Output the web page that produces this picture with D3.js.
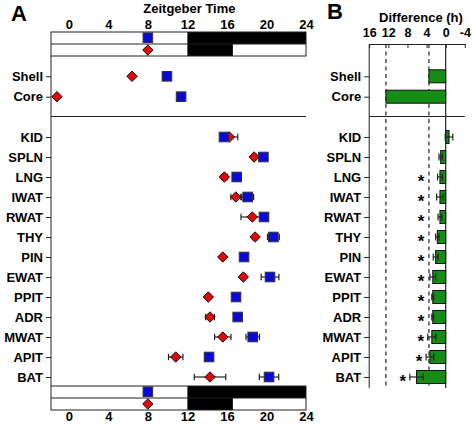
<!DOCTYPE html>
<html><head><meta charset="utf-8">
<script src="https://cdn.jsdelivr.net/npm/d3@7"></script>
<style>
body{margin:0;background:#fff}
text{font-family:"Liberation Sans",Arial,sans-serif;font-weight:bold;fill:#000}
</style>
</head><body><svg id="c" width="472" height="425"></svg>
<script>
// ---- data ----
const zoneLabels = ["Shell", "Core"];
const zoneRed = [6.4, -1.2];
const zoneBlue = [9.93, 11.36];
const tissues = ["KID","SPLN","LNG","IWAT","RWAT","THY","PIN","EWAT","PPIT","ADR","MWAT","APIT","BAT"];
const redPeak = [16.25, 18.75, 15.74, 16.9, 18.57, 18.85, 15.58, 17.66, 14.12, 14.29, 15.58, 10.82, 14.29];
const redErr  = [0.85, 0.2, 0.3, 0.5, 1.15, 0.2, 0.2, 0.2, 0.2, 0.44, 0.83, 0.73, 1.59];
const bluePeak = [15.7, 19.69, 16.99, 18.1, 19.75, 20.7, 17.73, 20.36, 16.92, 17.09, 18.61, 14.19, 20.26];
const blueErr  = [0.2, 0.3, 0.4, 0.6, 0.2, 0.6, 0.2, 0.9, 0.2, 0.2, 0.68, 0.2, 0.98];
const zoneDiff = [3.5, 12.5];
const tissueDiff = [-0.7, 1.05, 1.2, 1.2, 1.2, 1.75, 2.1, 2.7, 2.7, 2.7, 2.9, 3.3, 6.1];
const tissueDiffErr = [0.8, 0.35, 0.5, 0.7, 0.4, 0.35, 0.5, 0.6, 0.2, 0.2, 0.85, 0.8, 1.4];
const signif = [0,0,1,1,1,1,1,1,1,1,1,1,1];
const ztTicks = [0, 4, 8, 12, 16, 20, 24];
const diffTicks = [16, 12, 8, 4, 0, -4];
const darkTop = [[12, 24]];
const darkBottom = [[12, 16.6]];
const refBlue = 8, refRed = 8;

// ---- setup ----
const svg = d3.select("#c");
const BLUE = "#0a0ad6", RED = "#e00808", GREEN = "#158c15";
const xA = d3.scaleLinear().domain([-1.8, 24]).range([51, 306]);
const xB = d3.scaleLinear().domain([16, -4]).range([369.2, 464.8]);
const yZ = d3.scalePoint().domain(zoneLabels).range([76.3, 96.7]);
const yT = d3.scalePoint().domain(tissues).range([137, 377]);
const topY = 44, botY = 388;

// panel letters and titles
svg.append("text").attr("x", 11).attr("y", 21).attr("font-size", 22).text("A");
svg.append("text").attr("x", 327).attr("y", 19).attr("font-size", 22).text("B");
svg.append("text").attr("x", xA(12)+2).attr("y", 12.5).attr("text-anchor","middle").attr("font-size", 13).text("Zeitgeber Time");
svg.append("text").attr("x", 421).attr("y", 21.5).attr("text-anchor","middle").attr("font-size", 13).text("Difference (h)");

// ---- light/dark boxes ----
function lightBox(y0) {
  const g = svg.append("g");
  const h = 12;
  [0,1].forEach(r => {
    g.append("rect").attr("x", xA(-1.8)).attr("y", y0 + r*h).attr("width", xA(24)-xA(-1.8)).attr("height", h)
      .attr("fill", "#fff");
  });
  g.selectAll(".dt").data(darkTop).join("rect").attr("x", d=>xA(d[0])).attr("y", y0).attr("width", d=>xA(d[1])-xA(d[0])).attr("height", h).attr("fill","#000");
  g.selectAll(".db").data(darkBottom).join("rect").attr("x", d=>xA(d[0])).attr("y", y0+h).attr("width", d=>xA(d[1])-xA(d[0])).attr("height", h).attr("fill","#000");
  g.append("rect").attr("x", xA(-1.8)).attr("y", y0).attr("width", xA(24)-xA(-1.8)).attr("height", 2*h)
    .attr("fill","none").attr("stroke","#222").attr("stroke-width",1);
  g.append("line").attr("x1", xA(-1.8)).attr("x2", xA(24)).attr("y1", y0+h).attr("y2", y0+h).attr("stroke","#222");
  square(g, xA(refBlue), y0 + h/2 - 0.3);
  diamond(g, xA(refRed), y0 + h*1.5);
}
function square(g, x, y) {
  g.append("rect").attr("x", x-4.8).attr("y", y-4.8).attr("width", 9.6).attr("height", 9.6)
    .attr("fill", BLUE).attr("stroke", "#333").attr("stroke-width", 1);
}
function diamond(g, x, y) {
  const r = 5.2;
  g.append("path").attr("d", `M${x},${y-r}L${x+r},${y}L${x},${y+r}L${x-r},${y}Z`)
    .attr("fill", RED).attr("stroke", "#111").attr("stroke-width", 1);
}
function errBar(g, x1, x2, y, cap) {
  g.append("line").attr("x1", x1).attr("x2", x2).attr("y1", y).attr("y2", y).attr("stroke","#222").attr("stroke-width",1.2);
  [x1, x2].forEach(x => g.append("line").attr("x1", x).attr("x2", x).attr("y1", y-cap).attr("y2", y+cap).attr("stroke","#222").attr("stroke-width",1.2));
}

lightBox(32);
lightBox(386);

// ---- panel A axes ----
const axTop = svg.append("g").attr("transform", "translate(0,32)")
  .call(d3.axisTop(xA).tickValues(ztTicks).tickSize(0).tickPadding(3.5));
axTop.select(".domain").remove();
axTop.selectAll("text").attr("font-size", 13).attr("font-family", "Liberation Sans, Arial, sans-serif").attr("font-weight","bold");
const axBot = svg.append("g").attr("transform", "translate(0,410)")
  .call(d3.axisBottom(xA).tickValues(ztTicks).tickSize(0).tickPadding(2));
axBot.select(".domain").remove();
axBot.selectAll("text").attr("font-size", 13).attr("font-family", "Liberation Sans, Arial, sans-serif").attr("font-weight","bold");

svg.append("line").attr("x1", 51).attr("x2", 51).attr("y1", 56).attr("y2", 386).attr("stroke","#222");
svg.append("line").attr("x1", 51).attr("x2", 306).attr("y1", 116.5).attr("y2", 116.5).attr("stroke","#222");

function rowAxis(x, scale) {
  const a = svg.append("g").attr("transform", `translate(${x},0)`)
    .call(d3.axisLeft(scale).tickSize(5).tickPadding(3));
  a.select(".domain").remove();
  a.selectAll("line").attr("stroke","#222");
  a.selectAll("text").attr("font-size", 13).attr("font-family", "Liberation Sans, Arial, sans-serif").attr("font-weight","bold").attr("fill","#000");
}
rowAxis(51, yZ); rowAxis(51, yT);

// ---- panel A marks ----
const gA = svg.append("g");
tissues.forEach((t, i) => {
  const y = yT(t);
  errBar(gA, xA(redPeak[i]-redErr[i]), xA(redPeak[i]+redErr[i]), y, 3.2);
  errBar(gA, xA(bluePeak[i]-blueErr[i]), xA(bluePeak[i]+blueErr[i]), y, 3.2);
});
tissues.forEach((t, i) => diamond(gA, xA(redPeak[i]), yT(t)));
tissues.forEach((t, i) => square(gA, xA(bluePeak[i]), yT(t)));
zoneLabels.forEach((z, i) => { diamond(gA, xA(zoneRed[i]), yZ(z)); square(gA, xA(zoneBlue[i]), yZ(z)); });

// ---- panel B ----
const axB = svg.append("g").attr("transform", `translate(0,${topY})`)
  .call(d3.axisTop(xB).tickValues(diffTicks).tickSizeInner(-4).tickSizeOuter(0).tickPadding(7.5).tickFormat(d => String(d)));
axB.selectAll("line, path").attr("stroke","#222");
axB.selectAll("text").attr("font-size", 12.5).attr("font-family", "Liberation Sans, Arial, sans-serif").attr("font-weight","bold").attr("fill","#000");

svg.append("line").attr("x1", xB(16)).attr("x2", xB(16)).attr("y1", topY).attr("y2", botY).attr("stroke","#222");
svg.append("line").attr("x1", xB(16)).attr("x2", xB(-4)).attr("y1", 116.5).attr("y2", 116.5).attr("stroke","#222");
rowAxis(xB(16), yZ); rowAxis(xB(16), yT);

zoneDiff.forEach(d => {
  svg.append("line").attr("x1", xB(d)).attr("x2", xB(d)).attr("y1", topY).attr("y2", botY)
    .attr("stroke","#333").attr("stroke-width",1.3).attr("stroke-dasharray","4,3.5");
});

const gB = svg.append("g");
const bh = 13;
function bar(d, y) {
  const x0 = Math.min(xB(d), xB(0)), x1 = Math.max(xB(d), xB(0));
  gB.append("rect").attr("x", x0).attr("y", y-bh/2).attr("width", x1-x0).attr("height", bh)
    .attr("fill", GREEN).attr("stroke","#111").attr("stroke-width",1);
}
zoneLabels.forEach((z, i) => bar(zoneDiff[i], yZ(z)));
tissues.forEach((t, i) => {
  const y = yT(t);
  bar(tissueDiff[i], y);
  errBar(gB, xB(tissueDiff[i]+tissueDiffErr[i]), xB(tissueDiff[i]-tissueDiffErr[i]), y, 3.5);
  if (signif[i]) {
    const sx = Math.min(xB(zoneDiff[0]) - 8, xB(tissueDiff[i]+tissueDiffErr[i]) - 7);
    gB.append("text").attr("x", sx).attr("y", y+9.8).attr("text-anchor","middle").attr("font-size", 17).text("*");
  }
});
svg.append("line").attr("x1", xB(0)).attr("x2", xB(0)).attr("y1", topY).attr("y2", botY).attr("stroke","#222").attr("stroke-width",1.2);
</script></body></html>
